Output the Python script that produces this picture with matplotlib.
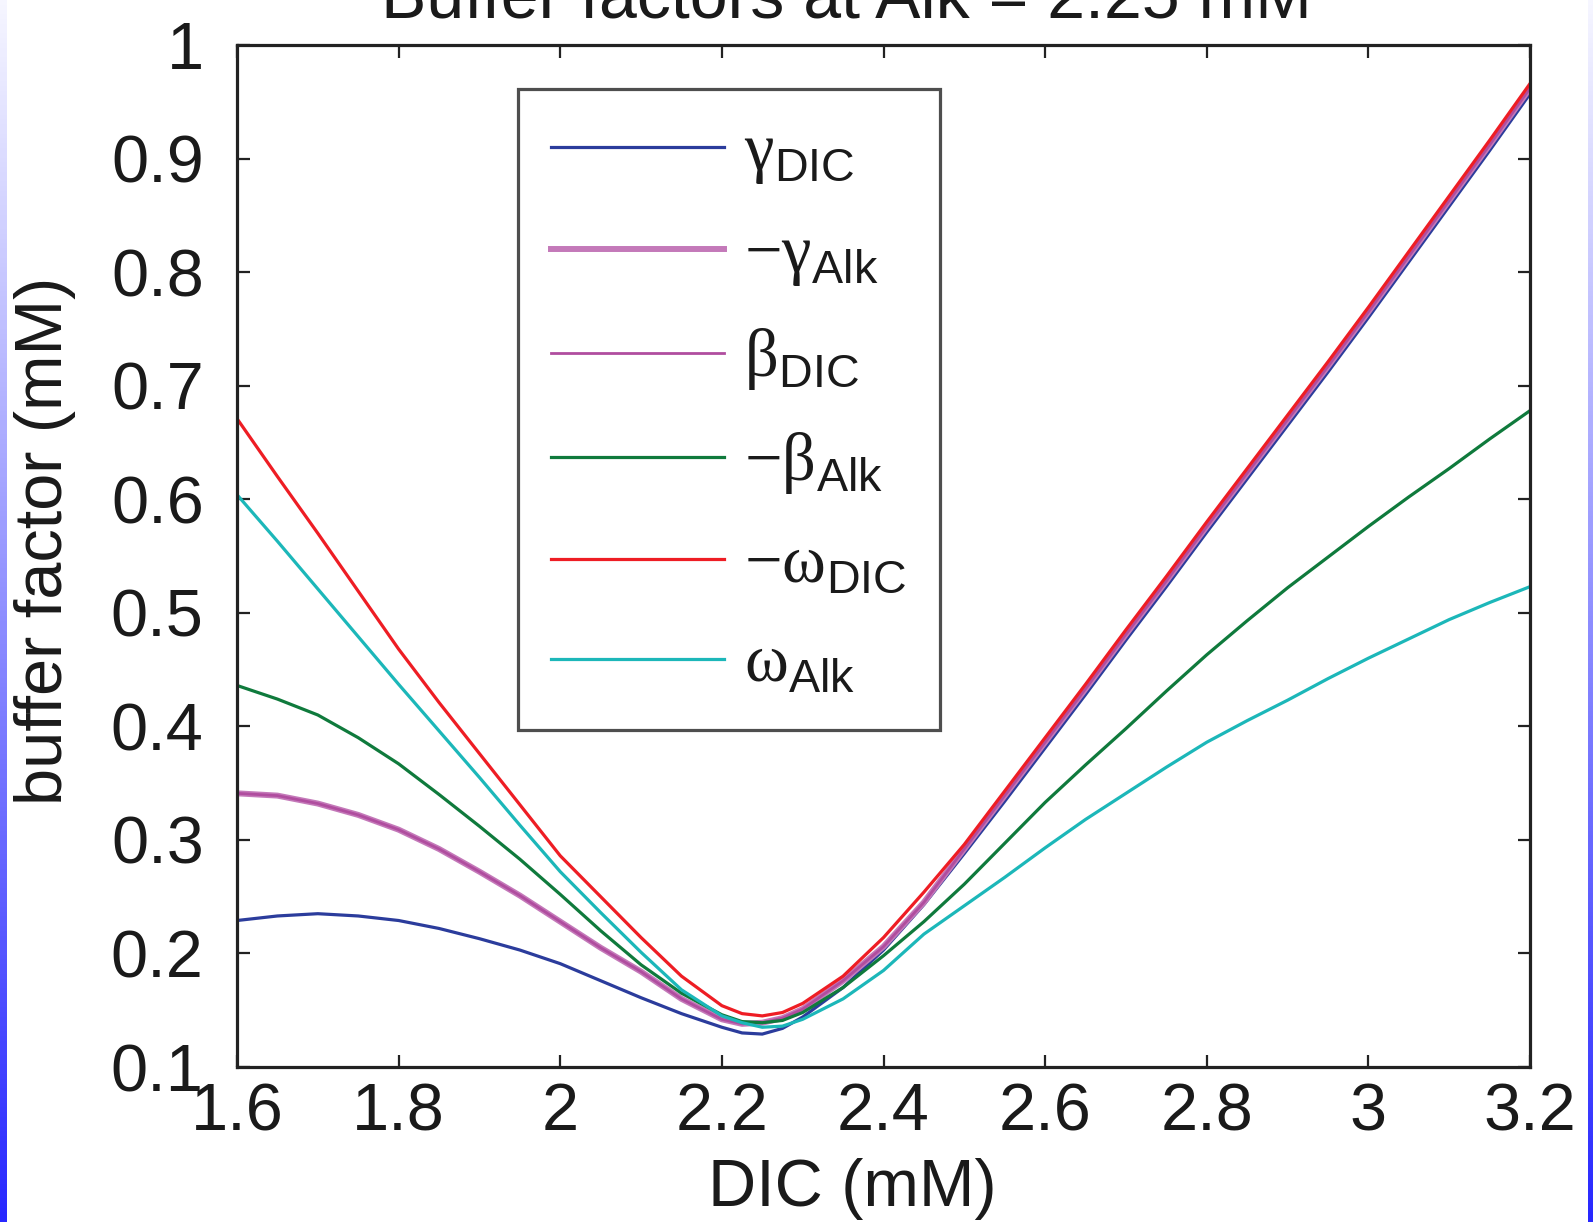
import numpy as np
import matplotlib
matplotlib.use('Agg')
from matplotlib import pyplot as plt
from matplotlib.colors import LinearSegmentedColormap

plt.rcParams['font.family'] = ['Liberation Sans', 'DejaVu Sans']
plt.rcParams['mathtext.fontset'] = 'custom'
plt.rcParams['mathtext.rm'] = 'Liberation Serif'
plt.rcParams['mathtext.sf'] = 'Liberation Sans'

# DIC (mM)
dic = [1.6, 1.65, 1.7, 1.75, 1.8, 1.85, 1.9, 1.95, 2.0, 2.05, 2.1, 2.15, 2.2,
       2.225, 2.25, 2.275, 2.3, 2.35, 2.4, 2.45, 2.5, 2.55, 2.6, 2.65, 2.7,
       2.75, 2.8, 2.85, 2.9, 2.95, 3.0, 3.05, 3.1, 3.15, 3.2]

gamma_dic = [0.229, 0.233, 0.235, 0.233, 0.229, 0.222, 0.213, 0.203, 0.191, 0.176,
             0.161, 0.147, 0.135, 0.130, 0.129, 0.134, 0.144, 0.170, 0.203, 0.243,
             0.288, 0.334, 0.381, 0.428, 0.476, 0.523, 0.571, 0.618, 0.665, 0.712,
             0.760, 0.809, 0.858, 0.907, 0.957]
neg_gamma_alk = [0.341, 0.339, 0.332, 0.322, 0.309, 0.292, 0.272, 0.251, 0.228, 0.205,
                 0.184, 0.160, 0.142, 0.138, 0.139, 0.143, 0.151, 0.176, 0.206, 0.245,
                 0.292, 0.339, 0.386, 0.433, 0.481, 0.528, 0.576, 0.623, 0.670, 0.717,
                 0.765, 0.814, 0.863, 0.912, 0.962]
beta_dic = [0.341, 0.339, 0.332, 0.322, 0.309, 0.292, 0.272, 0.251, 0.228, 0.205,
            0.184, 0.160, 0.142, 0.138, 0.139, 0.143, 0.151, 0.176, 0.206, 0.245,
            0.292, 0.339, 0.386, 0.433, 0.481, 0.528, 0.576, 0.623, 0.670, 0.717,
            0.765, 0.814, 0.863, 0.912, 0.962]
neg_beta_alk = [0.436, 0.424, 0.410, 0.390, 0.367, 0.340, 0.312, 0.283, 0.252, 0.220,
                0.190, 0.165, 0.146, 0.140, 0.139, 0.141, 0.148, 0.170, 0.198, 0.228,
                0.261, 0.297, 0.333, 0.366, 0.398, 0.431, 0.463, 0.493, 0.522, 0.549,
                0.576, 0.602, 0.627, 0.653, 0.678]
neg_omega_dic = [0.671, 0.620, 0.570, 0.519, 0.468, 0.421, 0.376, 0.331, 0.286, 0.250,
                 0.214, 0.180, 0.154, 0.147, 0.145, 0.148, 0.156, 0.180, 0.214, 0.254,
                 0.296, 0.343, 0.390, 0.437, 0.485, 0.532, 0.580, 0.627, 0.674, 0.721,
                 0.769, 0.818, 0.867, 0.916, 0.966]
omega_alk = [0.604, 0.563, 0.521, 0.479, 0.437, 0.396, 0.355, 0.313, 0.272, 0.236,
             0.201, 0.168, 0.145, 0.139, 0.135, 0.136, 0.142, 0.160, 0.185, 0.217,
             0.242, 0.267, 0.293, 0.318, 0.341, 0.364, 0.386, 0.405, 0.423, 0.442,
             0.460, 0.477, 0.494, 0.509, 0.523]

labels = [r'$\mathrm{\gamma}_{\mathsf{DIC}}$', r'$-\mathrm{\gamma}_{\mathsf{Alk}}$',
          r'$\mathrm{\beta}_{\mathsf{DIC}}$', r'$-\mathrm{\beta}_{\mathsf{Alk}}$',
          r'$-\mathrm{\omega}_{\mathsf{DIC}}$', r'$\mathrm{\omega}_{\mathsf{Alk}}$']
series = [gamma_dic, neg_gamma_alk, beta_dic, neg_beta_alk, neg_omega_dic, omega_alk]
colors = ['#2b3c9c', '#c479b9', '#b04d9f', '#0f7a3c', '#ee1d24', '#1cb7b9']
widths = [2.3, 4.3, 2.0, 2.3, 2.3, 2.3]

W, H = 1593, 1222
fig = plt.figure(figsize=(W / 100, H / 100), dpi=100)

# blue gradient strips at the page edges
grad = np.linspace(0, 1, 256).reshape(-1, 1)
cm = LinearSegmentedColormap.from_list('edge', ['#f6f6ff', '#2828ff'])
for x0, w in [(0, 7), (1588, 5)]:
    sa = fig.add_axes([x0 / W, 0, w / W, 1])
    sa.imshow(grad, aspect='auto', cmap=cm)
    sa.axis('off')

ax = fig.add_axes([237 / W, 1 - 1067 / H, 1293 / W, 1022 / H])
for y, lab, c, lw in zip(series, labels, colors, widths):
    ax.plot(dic, y, color=c, lw=lw, label=lab, solid_joinstyle='round')

ax.set_xlim(1.6, 3.2)
ax.set_ylim(0.1, 1.0)
ax.set_xticks([1.6, 1.8, 2.0, 2.2, 2.4, 2.6, 2.8, 3.0, 3.2])
ax.set_xticklabels(['1.6', '1.8', '2', '2.2', '2.4', '2.6', '2.8', '3', '3.2'])
ax.set_yticks([0.1, 0.2, 0.3, 0.4, 0.5, 0.6, 0.7, 0.8, 0.9, 1.0])
ax.set_yticklabels(['0.1', '0.2', '0.3', '0.4', '0.5', '0.6', '0.7', '0.8', '0.9', '1'])
ax.tick_params(direction='in', length=9, width=1.6, color='#222222',
               top=True, right=True, labelsize=48, labelcolor='#1a1a1a')
ax.tick_params(axis='x', pad=11)
ax.tick_params(axis='y', pad=24)
for s in ax.spines.values():
    s.set_linewidth(2.3)
    s.set_color('#222222')

leg = ax.legend(loc='upper left', bbox_to_anchor=(0.217, 0.957), fontsize=48,
                frameon=True, fancybox=False, edgecolor='#222222',
                handlelength=2.6, handletextpad=0.3, borderpad=0.5,
                labelspacing=0.57, borderaxespad=0)
leg.get_frame().set_linewidth(2.3)
for t in leg.get_texts():
    t.set_color('#1a1a1a')

fig.text(846 / W, 1 - 17 / H, 'Buffer factors at Alk = 2.25 mM', ha='center',
         va='baseline', fontsize=49, color='#1a1a1a')
fig.text(852 / W, 1 - 1206 / H, 'DIC (mM)', ha='center', va='baseline',
         fontsize=48, color='#1a1a1a')
fig.text(0.028, 0.557, 'buffer factor (mM)', rotation=90, ha='center',
         va='center', fontsize=48, color='#1a1a1a')

fig.savefig('out.png', dpi=100)
